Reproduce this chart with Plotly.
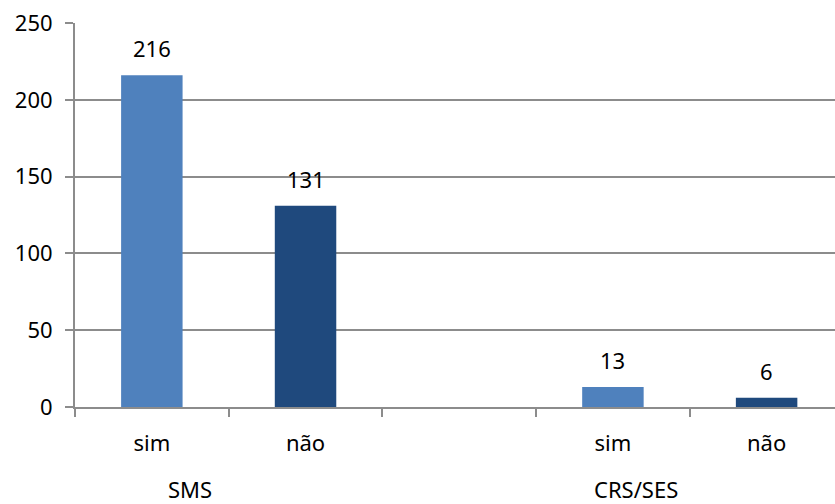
import plotly.graph_objects as go

# Survey answers by institution
categories = ["sim", "não", "", "sim", "não"]
values = [216, 131, None, 13, 6]
groups = ["SMS", "CRS/SES"]
group_centers = [0.25, 3.15]  # x position (category units) of each group caption

bar_colors = ["#4F81BD", "#1F497D", "#4F81BD", "#4F81BD", "#1F497D"]
font_family = "Noto Sans, Open Sans, sans-serif"
font_size = 22
axis_gray = "#8C8C8C"

xs = list(range(len(categories)))
bx = [x for x, v in zip(xs, values) if v is not None]
by = [v for v in values if v is not None]
bc = [c for c, v in zip(bar_colors, values) if v is not None]

fig = go.Figure()
fig.add_trace(go.Bar(
    x=bx, y=by, width=0.4,
    marker=dict(color=bc, line=dict(width=0)),
    hoverinfo="skip",
))

# value labels above each bar
for x, v in zip(bx, by):
    fig.add_annotation(
        x=x, y=v, text=str(v), showarrow=False,
        yanchor="middle", yshift=27,
        font=dict(family=font_family, size=font_size, color="#000000"),
    )

# group captions under the category labels
for g, gx in zip(groups, group_centers):
    fig.add_annotation(
        x=gx, y=0, yref="y", text=g, showarrow=False,
        yanchor="middle", yshift=-82,
        font=dict(family=font_family, size=font_size, color="#000000"),
    )

fig.update_layout(
    width=835, height=504,
    margin=dict(l=75, r=0, t=23, b=97),
    paper_bgcolor="white", plot_bgcolor="white",
    showlegend=False,
    font=dict(family=font_family, size=font_size, color="#000000"),
    xaxis=dict(
        range=[-0.5, 4.445],
        tickvals=[x for x, c in zip(xs, categories) if c],
        ticktext=[c for c in categories if c],
        ticks="", ticklabelstandoff=16,
        showgrid=False, zeroline=False,
        showline=True, linecolor=axis_gray, linewidth=2,
        minor=dict(tick0=-0.5, dtick=1, ticks="outside", ticklen=8,
                   tickcolor=axis_gray, tickwidth=2, showgrid=False),
        fixedrange=True,
    ),
    yaxis=dict(
        range=[0, 250], dtick=50,
        showgrid=True, gridcolor=axis_gray, gridwidth=2,
        zeroline=False,
        showline=True, linecolor=axis_gray, linewidth=2,
        ticks="outside", ticklen=8, tickcolor=axis_gray, tickwidth=2,
        ticklabelstandoff=8,
        fixedrange=True,
    ),
)

fig.write_html("out.html")
